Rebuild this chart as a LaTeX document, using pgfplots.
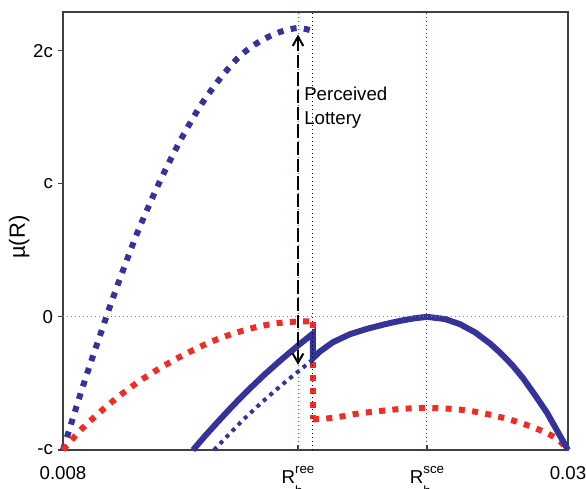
\documentclass[border=0pt]{standalone}
\usepackage{fontspec}
\setmainfont{Liberation Sans}
\usepackage{pgfplots}
\pgfplotsset{compat=1.18}
\usetikzlibrary{arrows.meta}
\definecolor{myblue}{RGB}{52,51,153}
\definecolor{myred}{RGB}{238,45,36}
\definecolor{lblue}{RGB}{70,150,215}
\newcommand{\Rlab}[1]{R\rlap{\raisebox{-9pt}{\fontsize{10}{10}\selectfont b}}\raisebox{7.5pt}{\fontsize{10}{10}\selectfont #1}}
\begin{document}
\begin{tikzpicture}
\begin{axis}[name=ax, scale only axis, width=378.75pt, height=328.5pt,
 xmin=0.008, xmax=0.03, ymin=-1, ymax=2.29,
 clip=false,
 axis line style={draw=black!75, line width=0.9pt},
 xtick={0.008,0.018238,0.023857,0.03},
 xticklabels={0.008, \Rlab{ree}, \Rlab{sce}, 0.03},
 ytick={-1,0,1,2}, yticklabels={-c,0,c,2c},
 tick label style={font=\fontsize{14}{16}\selectfont},
 x tick label style={yshift=-8.5pt},
 tick style={black!75, line width=0.8pt},
 xtick pos=bottom, ytick pos=left,
 xtick align=inside, ytick align=outside,
 major tick length=4pt,
 ylabel={µ(R)},
 ylabel style={font=\fontsize{16.5}{18}\selectfont, at={(axis description cs:-0.057,0.486)}, anchor=south},
]
% upper blue dotted
\addplot[myblue, line width=4.5pt, dash pattern=on 4.5pt off 5.5pt, smooth, tension=0.5] coordinates {
(0.008,-1.00) (0.008305,-0.83) (0.008741,-0.59) (0.009176,-0.36) (0.009612,-0.14) (0.010048,0.08) (0.010701,0.39) (0.011354,0.68) (0.012226,1.02) (0.013097,1.32) (0.013968,1.58) (0.014840,1.79) (0.015711,1.96) (0.016582,2.07) (0.017453,2.14) (0.018238,2.17) (0.018848,2.15)};
% red left
\addplot[myred, line width=4.5pt, dash pattern=on 4.5pt off 5.5pt, smooth, tension=0.5] coordinates {
(0.008,-1.00) (0.008741,-0.855) (0.009612,-0.715) (0.010483,-0.59) (0.011354,-0.48) (0.012226,-0.385) (0.013097,-0.30) (0.013968,-0.225) (0.014840,-0.16) (0.015711,-0.11) (0.016582,-0.07) (0.017453,-0.045) (0.018238,-0.035) (0.018891,-0.035)};
\addplot[myred, line width=4.5pt, dash pattern=on 4.5pt off 5.5pt] coordinates {(0.018891,-0.035) (0.018891,-0.77)};
\addplot[myred, line width=4.5pt, dash pattern=on 4.5pt off 5.5pt, smooth, tension=0.5] coordinates {
(0.018891,-0.77) (0.019414,-0.765) (0.020067,-0.75) (0.020721,-0.73) (0.021374,-0.715) (0.022028,-0.703) (0.022681,-0.692) (0.023335,-0.686) (0.023857,-0.684) (0.024642,-0.688) (0.025295,-0.697) (0.025949,-0.712) (0.026602,-0.735) (0.027256,-0.762) (0.027909,-0.795) (0.028562,-0.835) (0.029216,-0.885) (0.029652,-0.935) (0.030,-1.00)};
% lower blue dotted
\addplot[myblue, line width=3pt, dash pattern=on 3pt off 3.5pt, smooth, tension=0.5] coordinates {
(0.014578,-1.0) (0.015275,-0.875) (0.015929,-0.76) (0.016582,-0.655) (0.017236,-0.555) (0.017889,-0.46) (0.018325,-0.40) (0.018804,-0.33)};
% solid blue
\addplot[myblue, line width=4.5pt] coordinates {
(0.013663,-1.0) (0.014186,-0.895) (0.014709,-0.795) (0.015275,-0.69) (0.015711,-0.612) (0.016147,-0.537) (0.016800,-0.43) (0.017453,-0.33) (0.018238,-0.215) (0.018891,-0.125)
(0.018891,-0.31)
(0.019196,-0.26) (0.019762,-0.19) (0.020503,-0.13) (0.021244,-0.09) (0.022028,-0.055) (0.022681,-0.03) (0.023335,-0.01) (0.023857,0) (0.024642,-0.016) (0.025295,-0.055) (0.025949,-0.116) (0.026602,-0.20) (0.027038,-0.268) (0.027560,-0.36) (0.028040,-0.46) (0.028562,-0.587) (0.029085,-0.72) (0.029477,-0.84) (0.029739,-0.92) (0.030,-1.0)};
% reference lines
\addplot[lblue, line width=0.75pt, dash pattern=on 0.75pt off 2.25pt] coordinates {(0.008,0) (0.03,0)};
\addplot[myred, line width=0.75pt, dash pattern=on 0.75pt off 2.25pt] coordinates {(0.018238,-1) (0.018238,2.29)};
\addplot[black, line width=0.75pt, dash pattern=on 0.75pt off 2.25pt] coordinates {(0.018891,-1) (0.018891,2.29)};
\addplot[myblue, line width=0.75pt, dash pattern=on 0.75pt off 2.25pt] coordinates {(0.023857,-1) (0.023857,2.29)};
% arrow
\addplot[black, line width=1.5pt, dash pattern=on 10pt off 3pt, {Straight Barb[length=7pt,width=8pt]}-{Straight Barb[length=7pt,width=8pt]}] coordinates {(0.018238,2.12) (0.018238,-0.36)};
\node[anchor=north west, inner sep=0pt, align=left, font=\fontsize{14}{18}\selectfont] at (axis cs:0.018499,1.73) {Perceived\\Lottery};
\end{axis}
\pgfresetboundingbox
\path[use as bounding box] ([shift={(-47.25pt,-28.5pt)}]ax.south west) rectangle ([shift={(13.5pt,9pt)}]ax.north east);
\end{tikzpicture}
\end{document}
